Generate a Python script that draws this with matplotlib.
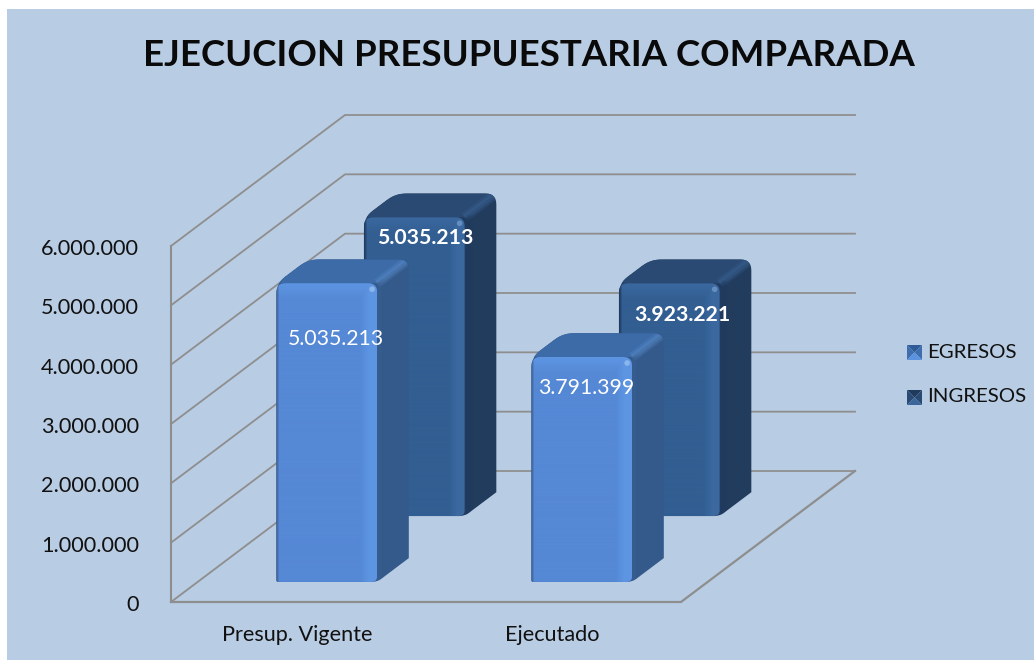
import numpy as np
import matplotlib
matplotlib.use("Agg")
import matplotlib.pyplot as plt
from matplotlib.colors import to_rgb
from matplotlib.patches import Polygon, Rectangle, Circle

categories = ["Presup. Vigente", "Ejecutado"]
egresos = [5035213, 3791399]
ingresos = [5035213, 3923221]
y_ticks = [0, 1000000, 2000000, 3000000, 4000000, 5000000, 6000000]
series_names = ["EGRESOS", "INGRESOS"]
title_text = "EJECUCION PRESUPUESTARIA COMPARADA"

BG = "#B8CCE4"
GRID = "#8E8E8E"

# plot box in pixels, the 3d look is only an oblique shift
X0, Y0 = 171, 602
CAT_W = 255
PX_PER_VALUE = 356 / 6000000
DEPTH_X, DEPTH_Y = 174, -131


def project(cat, depth, value):
    """cat in category units, depth 0..1 front to back wall"""
    x = X0 + cat * CAT_W + depth * DEPTH_X
    y = Y0 - value * PX_PER_VALUE + depth * DEPTH_Y
    return x, y


def fmt(v):
    return f"{v:,}".replace(",", ".")


def rounded(pts, radii):
    # replace each corner with a small bezier of the given radius
    pts = [np.array(p, dtype=float) for p in pts]
    out = []
    n = len(pts)
    for i, (p, r) in enumerate(zip(pts, radii)):
        if r <= 0:
            out.append(p)
            continue
        a = pts[i - 1] - p
        b = pts[(i + 1) % n] - p
        a = p + a / np.linalg.norm(a) * r
        b = p + b / np.linalg.norm(b) * r
        for t in np.linspace(0, 1, 8):
            out.append((1 - t) ** 2 * a + 2 * t * (1 - t) * p + t**2 * b)
    return np.array(out)


def front_shade(base, light, dark, h_px):
    nx, ny = 101, max(int(h_px), 30)
    base, light, dark = [np.array(to_rgb(c)) for c in (base, light, dark)]
    u = np.linspace(0, 1, nx)[None, :, None]
    j = np.arange(ny)[:, None, None]
    k = np.clip((u - 0.84) / 0.09, 0, 1) * 0.8
    k = np.maximum(k, np.clip(1 - j / 16.0, 0, 1) * 0.8)
    img = base + (light - base) * k
    left = np.clip(1 - u / 0.03, 0, 1)
    img = img + (dark - img) * left
    return img


def draw_bar(ax, cat0, cat1, d0, d1, value, colors, z):
    base, light, dark, top, side, band, spot = colors
    ftl = project(cat0, d0, value)
    ftr = project(cat1, d0, value)
    fbl = project(cat0, d0, 0)
    fbr = project(cat1, d0, 0)
    btl = project(cat0, d1, value)
    btr = project(cat1, d1, value)
    bbr = project(cat1, d1, 0)

    outline = rounded([ftl, btl, btr, bbr, fbr, fbl], [11, 11, 11, 0, 6, 2])
    sil = Polygon(outline, closed=True, fc=side, ec="none", zorder=z)
    ax.add_patch(sil)

    top_face = Polygon([ftl, btl, btr, ftr], closed=True, fc=top, ec="none", zorder=z + 0.1)
    ax.add_patch(top_face)
    top_face.set_clip_path(sil)

    # soft lighter bevel on the diagonal top edge
    for lw, a in [(7, 0.25), (4, 0.35)]:
        l, = ax.plot(*zip(ftr, btr), color=band, lw=lw, alpha=a, zorder=z + 0.15, solid_capstyle="butt")
        l.set_clip_path(sil)

    # dark shade where the side meets the front
    for off, a in [(1, 0.45), (3, 0.3), (5, 0.15)]:
        l, = ax.plot([ftr[0] + off, fbr[0] + off], [ftr[1] - off * 0.75, fbr[1] - off * 0.75],
                     color=dark, lw=2.2, alpha=a, zorder=z + 0.15, solid_capstyle="butt")
        l.set_clip_path(sil)

    front_outline = rounded([ftl, ftr, fbr, fbl], [9, 9, 6, 2])
    clip = Polygon(front_outline, closed=True, fc="none", ec="none")
    ax.add_patch(clip)
    img = front_shade(base, light, dark, fbl[1] - ftl[1])
    im = ax.imshow(img, extent=(ftl[0], ftr[0], fbl[1], ftl[1]), aspect="auto",
                   zorder=z + 0.2, interpolation="bilinear")
    im.set_clip_path(clip)

    ax.add_patch(Circle((ftr[0] - 5, ftr[1] + 6), 2.8, fc=spot, ec="none", alpha=0.6, zorder=z + 0.3))


def legend_marker(ax, x, y, s, c_bottom, c_left, c_top):
    c = (x + s / 2, y + s / 2)
    ax.add_patch(Polygon([(x, y), (x + s, y), c], fc=c_top, ec="none", zorder=5))
    ax.add_patch(Polygon([(x, y), (x, y + s), c], fc=c_left, ec="none", zorder=5))
    ax.add_patch(Polygon([(x + s, y), (x + s, y + s), c], fc=c_left, ec="none", zorder=5))
    ax.add_patch(Polygon([(x, y + s), (x + s, y + s), c], fc=c_bottom, ec="none", zorder=5))


plt.rcParams["font.family"] = ["Lato", "DejaVu Sans"]

fig = plt.figure(figsize=(10.34, 6.6), dpi=100, facecolor="white")
ax = fig.add_axes([0, 0, 1, 1])
ax.axis("off")
ax.add_patch(Rectangle((7, 9), 1027, 651, fc=BG, ec="none", zorder=0))

# walls and floor
for t in y_ticks:
    a = project(0, 0, t)
    b = project(0, 1, t)
    c = project(2, 1, t)
    ax.plot([a[0], b[0], c[0]], [a[1], b[1], c[1]], color=GRID, lw=1.3, zorder=1)
ax.plot(*zip(project(0, 0, 0), project(2, 0, 0), project(2, 1, 0)), color=GRID, lw=1.6, zorder=1)
ax.plot(*zip(project(0, 0, 0), project(0, 0, y_ticks[-1])), color=GRID, lw=1.5, zorder=1)

col_front = ("#5588D5", "#6099E6", "#3A5F92", "#3C6BA8", "#345A8B", "#5A8CCB", "#A9CCF5")
col_back = ("#325E92", "#3D6BA3", "#1F3A5E", "#2A4A73", "#223C5E", "#3A6596", "#7FA8D6")

# back series first, then the front one
for i, v in enumerate(ingresos):
    draw_bar(ax, i + 0.309, i + 0.704, 0.656, 0.838, v, col_back, 2 + i)
for i, v in enumerate(egresos):
    draw_bar(ax, i + 0.309, i + 0.704, 0.153, 0.335, v, col_front, 4 + i)

for i, v in enumerate(ingresos):
    x, y = project(i + 0.5025, 0.656, v)
    ax.text(x + 12 + 2 * i, y + 21 + 11 * i, fmt(v), color="white", fontsize=15.3, fontweight="bold",
            ha="center", va="center", zorder=9)
for i, v in enumerate(egresos):
    x, y = project(i + 0.5025, 0.153, v)
    ax.text(x + 10 - 5 * i, y + 56 - i * 25, fmt(v), color="white", fontsize=15.3,
            ha="center", va="center", zorder=9)

for t in y_ticks:
    x, y = project(0, 0, t)
    ax.text(x - 32, y + 3, fmt(t), fontsize=15.6, color="#111111", ha="right", va="center")

for i, c in enumerate(categories):
    x, y = project(i + 0.5, 0, 0)
    ax.text(x - 1, y + 33, c, fontsize=15.6, color="#111111", ha="center", va="center")

ax.text(529, 55, title_text, fontsize=26.4, fontweight="bold", color="#0A0A0A", ha="center", va="center")

legend_marker(ax, 907, 345, 15, "#5C93DF", "#3F6EAE", "#2F5C96")
legend_marker(ax, 907, 390, 15, "#3A6699", "#2A4A73", "#1F3A5C")
ax.text(927, 353, series_names[0], fontsize=14.7, color="#111111", va="center")
ax.text(927, 397, series_names[1], fontsize=14.7, color="#111111", va="center")

ax.set_xlim(0, 1034)
ax.set_ylim(660, 0)
fig.savefig("out.png", dpi=100, facecolor="white")
